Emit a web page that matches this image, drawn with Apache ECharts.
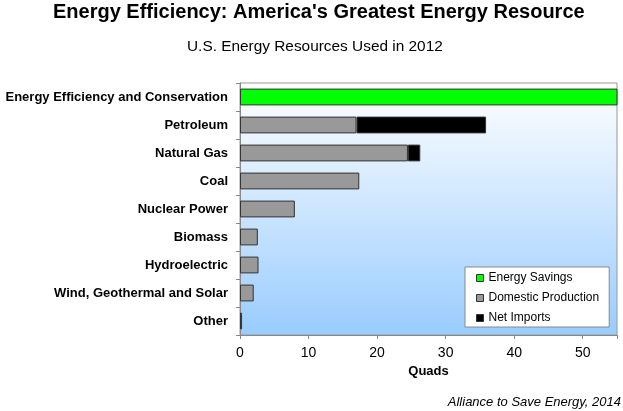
<!DOCTYPE html>
<html>
<head>
<meta charset="utf-8">
<script src="https://cdn.jsdelivr.net/npm/echarts@6/dist/echarts.min.js"></script>
<style>html,body{margin:0;padding:0;background:#fff;}#c{width:623px;height:411px;}</style>
</head>
<body>
<div id="c"></div>
<script>
const categories = ["Energy Efficiency and Conservation", "Petroleum", "Natural Gas", "Coal", "Nuclear Power", "Biomass", "Hydroelectric", "Wind, Geothermal and Solar", "Other"];
const energySavings = [60, null, null, null, null, null, null, null, null];
const domesticProduction = [null, 17.0, 24.5, 17.4, 8.0, 2.6, 2.7, 2.0, 0.3];
const netImports = [null, 18.9, 1.8, null, null, null, null, null, null];
const xTicks = [0, 10, 20, 30, 40, 50];

const FONT = "Arial, 'Liberation Sans', sans-serif";
const chart = echarts.init(document.getElementById('c'), null, {renderer: 'canvas'});
const barBorder = {borderColor: '#333', borderWidth: 1};
chart.setOption({
  animation: false,
  textStyle: {fontFamily: FONT},
  title: [
    {text: "Energy Efficiency: America's Greatest Energy Resource", left: 53, top: 2, padding: 0,
     textStyle: {fontSize: 20, fontWeight: 'bold', color: '#000', fontFamily: FONT}},
    {text: "U.S. Energy Resources Used in 2012", left: 187, top: 39, padding: 0,
     textStyle: {fontSize: 15.4, fontWeight: 'normal', color: '#000', fontFamily: FONT}},
    {text: "Alliance to Save Energy, 2014", right: 2, bottom: 2, padding: 0,
     textStyle: {fontSize: 13, fontWeight: 'normal', fontStyle: 'italic', color: '#000', fontFamily: FONT}}
  ],
  legend: {
    orient: 'vertical', left: 465, top: 267,
    padding: [5, 10, 3, 11], itemGap: 8, itemWidth: 7, itemHeight: 7,
    backgroundColor: '#fff', borderColor: '#888', borderWidth: 1,
    icon: 'rect',
    itemStyle: {borderColor: '#333', borderWidth: 1},
    textStyle: {fontSize: 12, color: '#000', fontFamily: FONT},
    data: ['Energy Savings', 'Domestic Production', 'Net Imports']
  },
  grid: {
    left: 240, right: 6, top: 83, bottom: 76, show: true,
    borderColor: '#999', borderWidth: 1,
    backgroundColor: new echarts.graphic.LinearGradient(0, 0, 0, 1, [
      {offset: 0, color: '#ffffff'}, {offset: 1, color: '#99ccff'}
    ])
  },
  xAxis: {
    type: 'value', min: 0, max: 55, interval: 10,
    name: 'Quads', nameLocation: 'middle', nameGap: 30,
    nameTextStyle: {fontSize: 13, fontWeight: 'bold', color: '#000', fontFamily: FONT},
    axisLine: {show: true, lineStyle: {color: '#888'}},
    axisTick: {show: true, length: 4, lineStyle: {color: '#888'}},
    splitLine: {show: false},
    axisLabel: {fontSize: 14, color: '#000', margin: 11, fontFamily: FONT,
      formatter: v => xTicks.includes(v) ? String(v) : ''}
  },
  yAxis: {
    type: 'category', data: categories, inverse: true,
    axisLine: {show: true, lineStyle: {color: '#888'}},
    axisTick: {show: true, length: 4, lineStyle: {color: '#888'}},
    axisLabel: {fontSize: 13, fontWeight: 'bold', color: '#000', margin: 12, fontFamily: FONT}
  },
  series: [
    {name: 'Energy Savings', type: 'bar', stack: 't', barWidth: '60%', data: energySavings,
     itemStyle: Object.assign({color: '#00ff00'}, barBorder)},
    {name: 'Domestic Production', type: 'bar', stack: 't', data: domesticProduction,
     itemStyle: Object.assign({color: '#999999'}, barBorder)},
    {name: 'Net Imports', type: 'bar', stack: 't', data: netImports,
     itemStyle: Object.assign({color: '#000000'}, barBorder)}
  ]
});
</script>
</body>
</html>
